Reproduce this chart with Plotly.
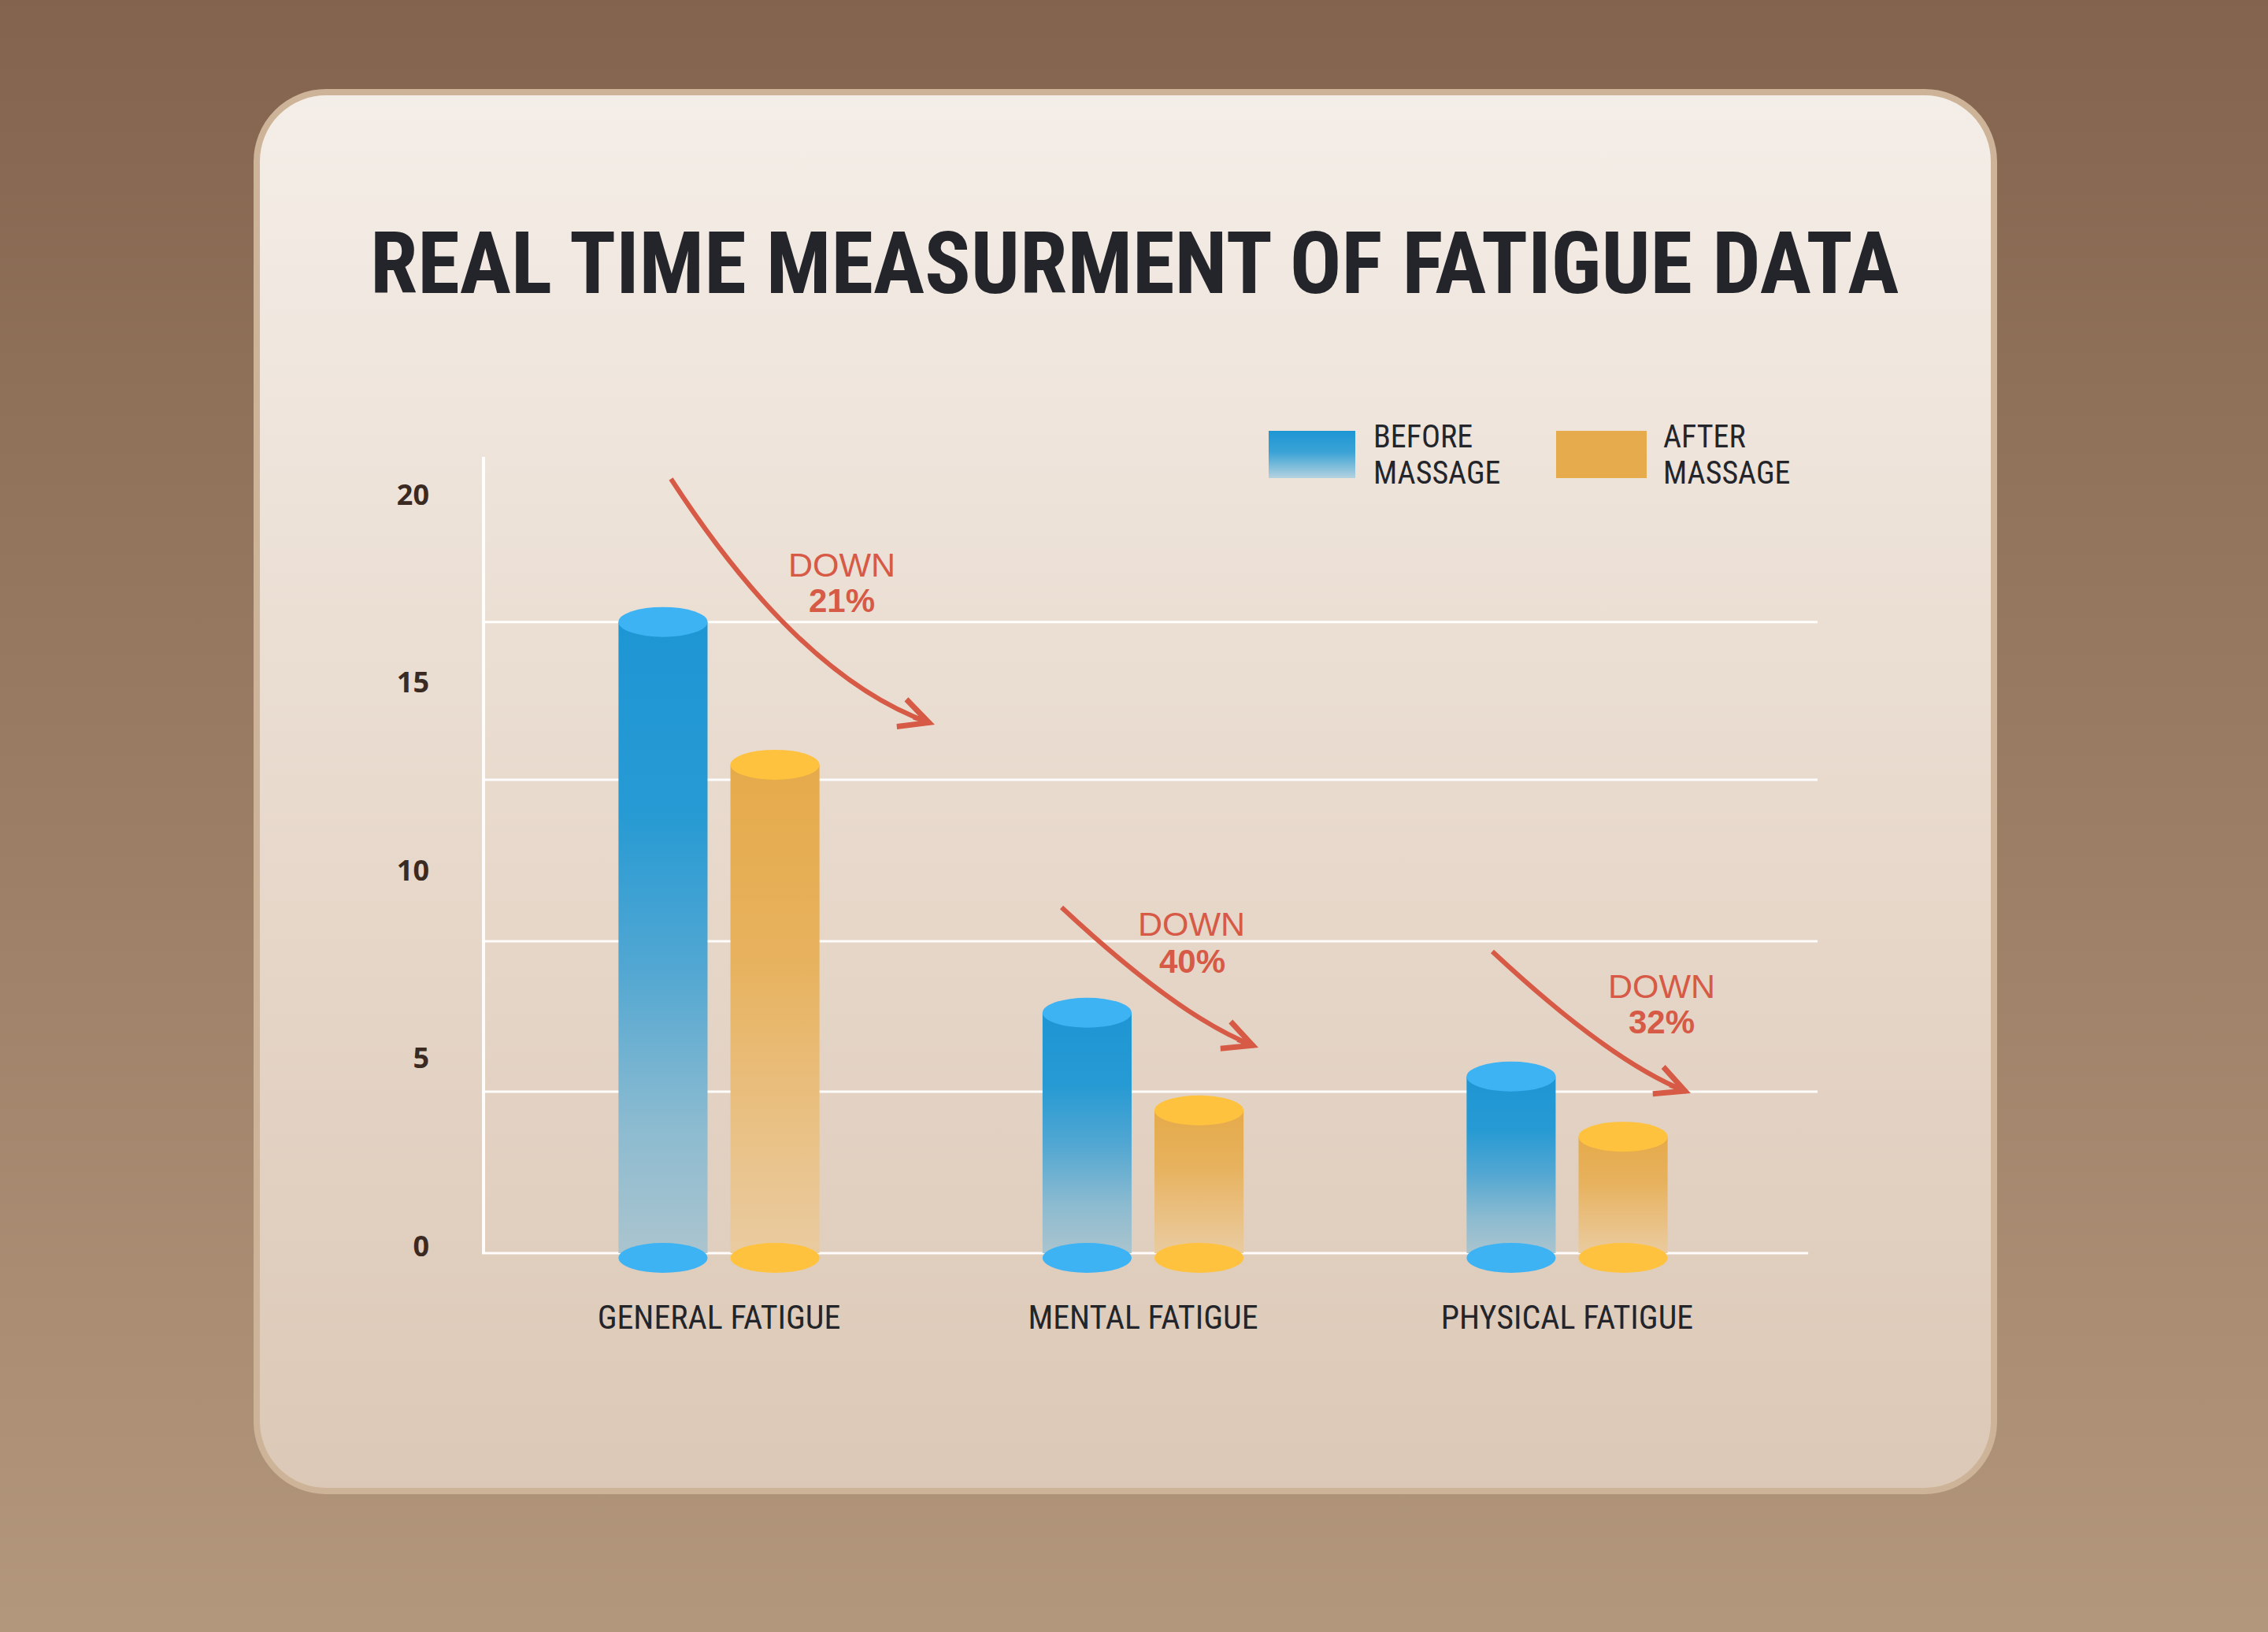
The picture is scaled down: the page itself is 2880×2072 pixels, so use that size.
import base64
import plotly.graph_objects as go

# ---------------- data ----------------
categories = ["GENERAL FATIGUE", "MENTAL FATIGUE", "PHYSICAL FATIGUE"]
before_massage = [16.8, 6.4, 4.7]
after_massage = [13.0, 3.8, 3.1]
drop_labels = ["21%", "40%", "32%"]
series_names = ["BEFORE", "AFTER"]
y_tick_values = [0, 5, 10, 15, 20]
y_tick_labels = ["0", "5", "10", "15", "20"]
grid_levels = [4.3, 8.3, 12.6, 16.8]

# ---------------- geometry / style ----------------
W, H = 2880, 2072
NARROW = "Liberation Sans Narrow, Roboto Condensed, Liberation Sans, sans-serif"
SANS = "Liberation Sans, Arial, sans-serif"
RED = "#D65A45"
DARK = "#23252A"
Y_TOP = 21.195
Y_BOTTOM = -0.8
PLOT_TOP_PX = 580
PX_PER_UNIT = 47.7
PLOT_BOTTOM_PX = 1591 - Y_BOTTOM * PX_PER_UNIT


def P(x, y):
    """pixel -> paper coordinates (margins are zero)"""
    return x / W, 1 - y / H


def svg_uri(svg):
    return "data:image/svg+xml;base64," + base64.b64encode(svg.encode()).decode()


bg_svg = f"""<svg xmlns="http://www.w3.org/2000/svg" width="{W}" height="{H}" viewBox="0 0 {W} {H}">
<defs>
<linearGradient id="bg" x1="0" y1="0" x2="0" y2="1">
<stop offset="0" stop-color="#83634D"/><stop offset="1" stop-color="#B3977C"/></linearGradient>
<linearGradient id="card" x1="0" y1="0" x2="0" y2="1">
<stop offset="0" stop-color="#F4EEE8"/><stop offset="0.5" stop-color="#E8DACD"/><stop offset="1" stop-color="#DCC8B6"/></linearGradient>
</defs>
<rect width="{W}" height="{H}" fill="url(#bg)"/>
<rect x="326" y="117" width="2206" height="1776" rx="88" ry="88" fill="url(#card)" stroke="#CDB398" stroke-width="8"/>
</svg>"""

blue_swatch = """<svg xmlns="http://www.w3.org/2000/svg" width="110" height="60" viewBox="0 0 110 60">
<defs><linearGradient id="g" x1="0" y1="0" x2="0" y2="1">
<stop offset="0" stop-color="#1E96D4"/><stop offset="0.45" stop-color="#3AA3D6"/><stop offset="1" stop-color="#B4D2DF"/></linearGradient></defs>
<rect width="110" height="60" fill="url(#g)"/></svg>"""

orange_swatch = """<svg xmlns="http://www.w3.org/2000/svg" width="115" height="60" viewBox="0 0 115 60">
<rect width="115" height="60" fill="#E5AB4C"/></svg>"""

blue_scale = [[0, "rgb(170,196,206)"], [0.2, "rgb(140,187,208)"], [0.45, "rgb(82,167,210)"],
              [0.7, "rgb(38,154,211)"], [1, "rgb(30,150,212)"]]
orange_scale = [[0, "rgb(233,203,160)"], [0.3, "rgb(233,191,128)"], [0.6, "rgb(231,178,94)"],
                [1, "rgb(229,170,74)"]]
cap_colors = ["#3DB3F4", "#FFC23F"]
scales = [blue_scale, orange_scale]

bar_offset = 0.132
bar_half = 0.105

fig = go.Figure()
shapes = []

# axis lines (drawn as shapes so the baseline sits at value 0)
shapes.append(dict(type="line", xref="x domain", yref="y", x0=0, x1=0.993, y0=0, y1=0,
                   line=dict(color="rgba(255,255,255,0.95)", width=3), layer="below"))
shapes.append(dict(type="line", xref="x domain", yref="y", x0=0.0012, x1=0.0012, y0=0, y1=Y_TOP,
                   line=dict(color="rgba(255,255,255,0.95)", width=4), layer="below"))

# grid lines
for g in grid_levels:
    shapes.append(dict(type="line", xref="x domain", yref="y", x0=0, x1=1.0, y0=g, y1=g,
                       line=dict(color="rgba(255,255,255,0.95)", width=3), layer="below"))

for si, vals in enumerate([before_massage, after_massage]):
    sign = -1 if si == 0 else 1
    for i, v in enumerate(vals):
        c = i + sign * bar_offset
        xs = [c - bar_half, c + bar_half, c + bar_half, c - bar_half, c - bar_half]
        ys = [0, 0, v, v, 0]
        fig.add_trace(go.Scatter(
            x=xs, y=ys, fill="toself", mode="lines", line=dict(width=0),
            fillgradient=dict(type="vertical", colorscale=scales[si]),
            name=series_names[si] + " MASSAGE", hoverinfo="skip", showlegend=False))
        # top cap
        shapes.append(dict(type="circle", xref="x", yref="y", x0=c - bar_half, x1=c + bar_half,
                           ysizemode="pixel", yanchor=v, y0=-19, y1=19,
                           fillcolor=cap_colors[si], line=dict(width=0), layer="above"))
        # bottom cap
        shapes.append(dict(type="circle", xref="x", yref="y", x0=c - bar_half, x1=c + bar_half,
                           ysizemode="pixel", yanchor=0, y0=-25, y1=13,
                           fillcolor=cap_colors[si], line=dict(width=0), layer="above"))

# curved arrows (start, control, end tip) in pixels
arrows = [((852, 608), (1016, 860), (1187, 920)),
          ((1348, 1152), (1498, 1292), (1598, 1330)),
          ((1895, 1208), (2045, 1348), (2147, 1388))]
annotations = []
for (p0, p1, p2) in arrows:
    dx, dy = p2[0] - p1[0], p2[1] - p1[1]
    n = (dx * dx + dy * dy) ** 0.5
    tx, ty = dx / n, dy / n
    end = (p2[0] - tx * 6, p2[1] - ty * 6)
    a = P(*p0)
    b = P(*p1)
    e = P(*end)
    shapes.append(dict(type="path", xref="paper", yref="paper",
                       path=f"M {a[0]},{a[1]} Q {b[0]},{b[1]} {e[0]},{e[1]}",
                       line=dict(color=RED, width=6), layer="above"))
    tip = P(*p2)
    annotations.append(dict(x=tip[0], y=tip[1], xref="paper", yref="paper", text="",
                            showarrow=True, arrowhead=5, arrowsize=1.2, arrowwidth=6,
                            arrowcolor=RED, ax=-tx * 30, ay=-ty * 30, standoff=0))

down_pos = [(1069, 717), (1513, 1173), (2110, 1252)]
pct_pos = [(1069, 763), (1514, 1220), (2110, 1297)]
for lbl, dp, pp in zip(drop_labels, down_pos, pct_pos):
    x, y = P(*dp)
    annotations.append(dict(x=x, y=y, xref="paper", yref="paper", text="DOWN", showarrow=False,
                            xanchor="center", yanchor="middle",
                            font=dict(family=SANS, size=43, color=RED)))
    x, y = P(*pp)
    annotations.append(dict(x=x, y=y, xref="paper", yref="paper", text=lbl, showarrow=False,
                            xanchor="center", yanchor="middle",
                            font=dict(family=SANS, size=42, color=RED, weight="bold")))

# title
tx_, ty_ = P(1440, 335)
annotations.append(dict(x=tx_, y=ty_, xref="paper", yref="paper",
                        text="REAL TIME MEASURMENT OF FATIGUE DATA", showarrow=False,
                        xanchor="center", yanchor="middle",
                        font=dict(family=NARROW, size=109, color=DARK, weight="bold")))

# legend
legend_items = [(1743, series_names[0]), (2111, series_names[1])]
for (lx, name) in legend_items:
    x, y = P(lx, 555)
    annotations.append(dict(x=x, y=y, xref="paper", yref="paper", text=name, showarrow=False,
                            xanchor="left", yanchor="middle", borderpad=0,
                            font=dict(family=NARROW, size=40, color=DARK)))
    x, y = P(lx, 601)
    annotations.append(dict(x=x, y=y, xref="paper", yref="paper", text="MASSAGE", showarrow=False,
                            xanchor="left", yanchor="middle", borderpad=0,
                            font=dict(family=NARROW, size=40, color=DARK)))

images = [dict(source=svg_uri(bg_svg), xref="paper", yref="paper", x=0, y=1, sizex=1, sizey=1,
               xanchor="left", yanchor="top", sizing="stretch", layer="below")]
sx, sy = P(1611, 547)
images.append(dict(source=svg_uri(blue_swatch), xref="paper", yref="paper", x=sx, y=sy,
                   sizex=110 / W, sizey=60 / H, xanchor="left", yanchor="top",
                   sizing="stretch", layer="above"))
sx, sy = P(1976, 547)
images.append(dict(source=svg_uri(orange_swatch), xref="paper", yref="paper", x=sx, y=sy,
                   sizex=115 / W, sizey=60 / H, xanchor="left", yanchor="top",
                   sizing="stretch", layer="above"))

fig.update_layout(
    width=W, height=H,
    margin=dict(l=0, r=0, t=0, b=0, pad=0),
    paper_bgcolor="#8B6B53",
    plot_bgcolor="rgba(0,0,0,0)",
    showlegend=False,
    shapes=shapes,
    annotations=annotations,
    images=images,
    xaxis=dict(domain=[612 / W, 2308 / W], range=[-0.559, 2.5906], fixedrange=True,
               tickmode="array", tickvals=[0, 1, 2], ticktext=categories,
               tickfont=dict(family=NARROW, size=42, color=DARK),
               showgrid=False, zeroline=False, ticks="", ticklabelstandoff=15,
               showline=False, automargin=False),
    yaxis=dict(domain=[1 - PLOT_BOTTOM_PX / H, 1 - PLOT_TOP_PX / H], range=[Y_BOTTOM, Y_TOP],
               fixedrange=True,
               tickmode="array", tickvals=y_tick_values, ticktext=y_tick_labels,
               tickfont=dict(family="Open Sans, sans-serif", size=36, color="#3A2A22", weight="bold"),
               showgrid=False, zeroline=False, ticks="", ticklabelstandoff=66, ticklabelshift=-9,
               showline=False, automargin=False),
)

fig.write_html("out.html")
